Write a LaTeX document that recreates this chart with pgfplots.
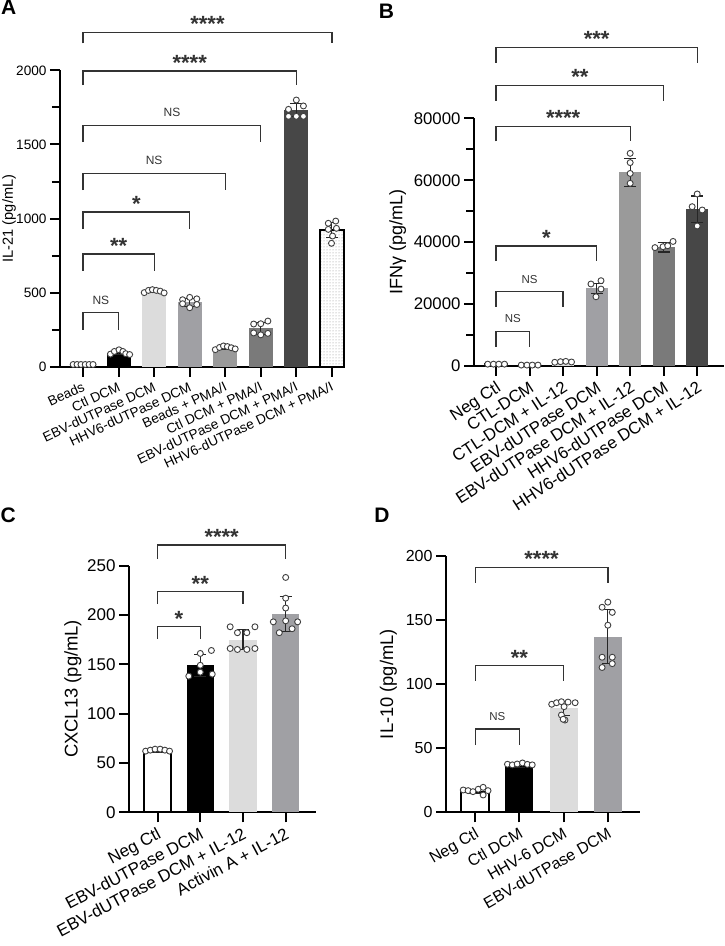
\documentclass[border=0pt]{standalone}
\usepackage{fontspec}
\setmainfont{Liberation Sans}
\usepackage{pgfplots}
\pgfplotsset{compat=1.18}
\usetikzlibrary{patterns}

\definecolor{lgray}{HTML}{DCDCDC}
\definecolor{mgray}{HTML}{A0A0A4}
\definecolor{ggray}{HTML}{9A9A9A}
\definecolor{sgray}{HTML}{7A7A7A}
\definecolor{dgray}{HTML}{474747}
\definecolor{brcol}{HTML}{333333}

\pgfplotsset{
  panel/.style={
    scale only axis, anchor=south west, clip=false,
    axis x line=bottom, axis y line=left,
    axis line style={line width=2.2pt, -},
    every tick/.style={line width=2pt, black},
    tick align=outside,
    major tick length=10pt, minor tick length=8pt,
    ymin=0,
    scaled y ticks=false,
    /pgf/number format/assume math mode=true,
    /pgf/number format/1000 sep={},
    xticklabel style={anchor=north east},
  },
  bar/.style={ybar, bar shift=0pt, draw=none,
    error bars/y dir=both, error bars/y explicit,
    error bars/error bar style={line width=1.2pt, black!85},
    error bars/error mark options={rotate=90, mark size=6pt, line width=1.2pt, black!85}},
  dots/.style={only marks, mark=*, mark size=3pt,
    mark options={fill=white, draw=black!75, line width=0.9pt}},
}
\tikzset{
  ns/.style={anchor=south, inner sep=0pt, yshift=8pt, font=\fontsize{12}{12}\selectfont},
  nsb/.style={anchor=south, inner sep=0pt, yshift=8pt, font=\fontsize{11.5}{12}\selectfont},
  st/.style={anchor=south, inner sep=0pt, font=\bfseries\fontsize{22}{22}\selectfont},
}

% bracket: x end, y top, y leg bottom, label, label style
\newcommand{\brk}[5]{\draw[brcol, line width=1.3pt] (axis cs:0,#3) -- (axis cs:0,#2) -- node[#5]{#4} (axis cs:#1,#2) -- (axis cs:#1,#3);}

\begin{document}
\begin{tikzpicture}
\useasboundingbox (0pt,0pt) rectangle (724pt,946pt);

% ---------------- A ----------------
\begin{axis}[panel, at={(60pt,579.3pt)}, width=285pt, height=296.3pt,
  xmin=-0.65, xmax=7.37, ymax=2000,
  ytick={0,500,1000,1500,2000}, minor ytick={250,750,1250,1750},
  xtick={0,...,7},
  xticklabels={Beads, Ctl DCM, EBV-dUTPase DCM, HHV6-dUTPase DCM, Beads + PMA/I, Ctl DCM + PMA/I, EBV-dUTPase DCM + PMA/I, HHV6-dUTPase DCM + PMA/I},
  xticklabel style={rotate=25},
  tick label style={font=\fontsize{13.6}{16}\selectfont},
  ylabel={IL-21 (pg/mL)},
  ylabel style={at={(axis description cs:-0.179,0.5)}, anchor=center, font=\fontsize{14.6}{17}\selectfont},
]
\addplot[bar, bar width=0.67, fill=white, draw=black, line width=2.2pt] coordinates {(0,15) +- (0,3)};
\addplot[bar, bar width=0.67, fill=black] coordinates {(1,94) +- (0,12)};
\addplot[bar, bar width=0.67, fill=lgray] coordinates {(2,510) +- (0,9)};
\addplot[bar, bar width=0.67, fill=mgray] coordinates {(3,435) +- (0,27)};
\addplot[bar, bar width=0.67, fill=ggray] coordinates {(4,128) +- (0,10)};
\addplot[bar, bar width=0.67, fill=sgray] coordinates {(5,258) +- (0,40)};
\addplot[bar, bar width=0.67, fill=dgray] coordinates {(6,1733) +- (0,42)};
\addplot[bar, bar width=0.67, fill=white, draw=black, line width=2.2pt,
  postaction={pattern=dots, pattern color=black!45}] coordinates {(7,921) +- (0,50)};
\addplot[dots] coordinates {
  (-0.28,15)(-0.17,15)(-0.06,15)(0.06,15)(0.17,15)(0.28,15)
  (0.77,85)(0.88,103)(1.01,114)(1.12,103)(1.2,88)(1.31,82)
  (1.72,500)(1.84,515)(1.95,520)(2.06,515)(2.17,510)(2.28,498)
  (2.8,452)(3.0,468)(3.2,458)(2.8,425)(3.0,398)(3.2,420)
  (3.72,115)(3.84,130)(3.95,140)(4.06,136)(4.17,128)(4.28,120)
  (4.8,288)(5.0,290)(5.2,308)(4.8,228)(5.0,215)(5.2,225)
  (5.78,1737)(6.0,1800)(6.2,1760)(5.78,1690)(6.0,1690)(6.2,1690)
  (6.9,968)(7.11,983)(6.9,927)(7.13,934)(7.02,882)(6.99,833)
};
\brk{1}{364}{249}{NS}{ns}
\brk{2}{761}{646}{**}{st}
\brk{3}{1044}{929}{*}{st}
\brk{4}{1306}{1191}{NS}{ns}
\brk{5}{1630}{1515}{NS}{ns}
\brk{6}{1995}{1900}{****}{st}
\brk{7}{2256}{2182}{****}{st}
\end{axis}

% ---------------- B ----------------
\begin{axis}[panel, at={(474pt,580.3pt)}, width=250pt, height=247.3pt,
  xmin=-0.66, xmax=6.8, ymax=80000,
  ytick={0,20000,40000,60000,80000}, minor ytick={10000,30000,50000,70000},
  xtick={0,...,6},
  xticklabels={Neg Ctl, CTL-DCM, CTL-DCM + IL-12, EBV-dUTPase DCM, EBV-dUTPase DCM + IL-12, HHV6-dUTPase DCM, HHV6-dUTPase DCM + IL-12},
  xticklabel style={rotate=33},
  tick label style={font=\fontsize{16.8}{19}\selectfont},
  ylabel={IFNγ (pg/mL)},
  ylabel style={at={(axis description cs:-0.305,0.5)}, anchor=center, font=\fontsize{18}{20}\selectfont},
]
\addplot[bar, bar width=0.66, fill=white, draw=black, line width=2.2pt] coordinates {(0,500) +- (0,100)};
\addplot[bar, bar width=0.66, fill=black] coordinates {(1,300) +- (0,50)};
\addplot[bar, bar width=0.66, fill=lgray] coordinates {(2,1150) +- (0,150)};
\addplot[bar, bar width=0.66, fill=mgray] coordinates {(3,25000) +- (0,1700)};
\addplot[bar, bar width=0.66, fill=ggray] coordinates {(4,62600) +- (0,4500)};
\addplot[bar, bar width=0.66, fill=sgray] coordinates {(5,38300) +- (0,1500)};
\addplot[bar, bar width=0.66, fill=dgray] coordinates {(6,50600) +- (0,4300)};
\addplot[dots] coordinates {
  (-0.25,500)(-0.08,500)(0.08,500)(0.25,500)
  (0.75,200)(0.92,200)(1.08,200)(1.25,200)
  (1.75,1100)(1.92,1300)(2.08,1400)(2.25,1200)
  (2.83,26430)(3.13,27500)(3.13,24800)(2.98,22300)
  (4,68700)(4,65700)(4,62200)(4,59000)
  (4.74,38200)(4.98,38500)(5.12,38800)(5.28,40200)
  (6,55550)(5.85,51440)(6.15,50370)(6,45200)
};
\brk{1}{11000}{6150}{NS}{nsb}
\brk{2}{23900}{19050}{NS}{nsb}
\brk{3}{38700}{33850}{*}{st}
\brk{4}{77400}{72550}{****}{st}
\brk{5}{90600}{85750}{**}{st}
\brk{6}{102900}{98050}{***}{st}
\end{axis}

% ---------------- C ----------------
\begin{axis}[panel, at={(129pt,133.7pt)}, width=187pt, height=246.7pt,
  xmin=-0.67, xmax=3.71, ymax=250,
  ytick={0,50,100,150,200,250},
  xtick={0,...,3},
  xticklabels={Neg Ctl, EBV-dUTPase DCM, EBV-dUTPase DCM + IL-12, Activin A + IL-12},
  xticklabel style={rotate=28},
  tick label style={font=\fontsize{17}{19}\selectfont},
  ylabel={CXCL13 (pg/mL)},
  ylabel style={at={(axis description cs:-0.3,0.5)}, anchor=center, font=\fontsize{18.4}{20}\selectfont},
]
\addplot[bar, bar width=0.64, fill=white, draw=black, line width=2.2pt] coordinates {(0,62) +- (0,1.5)};
\addplot[bar, bar width=0.64, fill=black] coordinates {(1,149) +- (0,11)};
\addplot[bar, bar width=0.64, fill=lgray] coordinates {(2,175) +- (0,10)};
\addplot[bar, bar width=0.64, fill=mgray] coordinates {(3,201) +- (0,18)};
\addplot[dots] coordinates {
  (-0.28,62)(-0.17,63)(-0.06,64)(0.06,64)(0.17,63)(0.28,62)
  (1.0,161)(1.26,164)(1.0,149)(1.0,142)(0.73,138)(1.28,140)
  (1.7,188)(1.87,182)(2.09,182)(2.28,188)(1.7,166)(1.87,165)(2.09,165)(2.28,166)
  (3,238)(3,217)(3,207)(2.71,193)(3,194)(3.28,193)(2.85,182)(3.15,186)
};
\brk{1}{188}{176}{*}{st}
\brk{2}{223.6}{211}{**}{st}
\brk{3}{271}{257}{****}{st}
\end{axis}

% ---------------- D ----------------
\begin{axis}[panel, at={(446pt,133.7pt)}, width=193.7pt, height=256.3pt,
  xmin=-0.66, xmax=3.72, ymax=200,
  ytick={0,50,100,150,200},
  xtick={0,...,3},
  xticklabels={Neg Ctl, Ctl DCM, HHV-6 DCM, EBV-dUTPase DCM},
  xticklabel style={rotate=30},
  tick label style={font=\fontsize{16}{18}\selectfont},
  ylabel={IL-10 (pg/mL)},
  ylabel style={at={(axis description cs:-0.297,0.5)}, anchor=center, font=\fontsize{18.3}{20}\selectfont},
]
\addplot[bar, bar width=0.63, fill=white, draw=black, line width=2.2pt] coordinates {(0,16) +- (0,1.5)};
\addplot[bar, bar width=0.63, fill=black] coordinates {(1,36) +- (0,1)};
\addplot[bar, bar width=0.63, fill=lgray] coordinates {(2,81) +- (0,5.5)};
\addplot[bar, bar width=0.63, fill=mgray] coordinates {(3,137) +- (0,21)};
\addplot[dots] coordinates {
  (-0.27,17.4)(-0.16,16.9)(-0.05,16.1)(0.07,18)(0.18,19.5)(0.18,13.5)(0.29,16.9)
  (0.73,37.5)(0.84,37)(0.95,37.7)(1.07,38.5)(1.18,37.4)(1.29,37)
  (1.73,84.3)(1.84,85.5)(1.95,86.3)(2.1,86)(2.26,85.5)(2.01,82.4)(1.95,75.9)(2.03,72)(1.99,72.6)
  (3,164)(2.87,160)(3.1,156)(3,146)(2.87,121)(3.1,121)(2.87,113)(3.1,116)
};
\brk{1}{65}{52.5}{NS}{nsb}
\brk{2}{114.4}{102.5}{**}{st}
\brk{3}{191}{179}{****}{st}
\end{axis}

% panel letters
\node[font=\bfseries\fontsize{21}{21}\selectfont] at (8.7pt,938.5pt) {A};
\node[font=\bfseries\fontsize{21}{21}\selectfont] at (386.5pt,935.2pt) {B};
\node[font=\bfseries\fontsize{21}{21}\selectfont] at (8.3pt,430.7pt) {C};
\node[font=\bfseries\fontsize{21}{21}\selectfont] at (382pt,431pt) {D};
\end{tikzpicture}
\end{document}
